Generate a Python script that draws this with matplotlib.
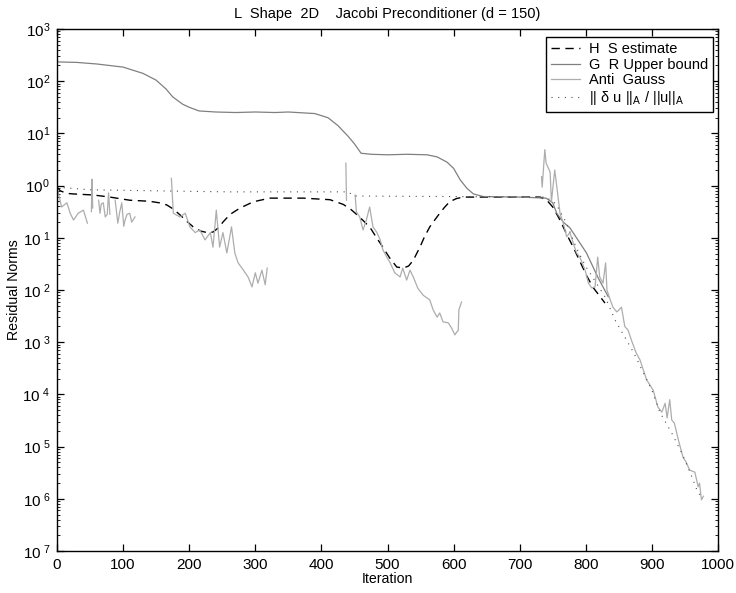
import matplotlib
matplotlib.use("Agg")
import matplotlib.pyplot as plt
import numpy as np
from matplotlib.ticker import FixedLocator, LogLocator, NullFormatter

plt.rcParams['font.family'] = ['Liberation Sans', 'DejaVu Sans']
plt.rcParams['mathtext.fontset'] = 'custom'
plt.rcParams['mathtext.rm'] = 'Liberation Sans'
plt.rcParams['mathtext.it'] = 'Liberation Sans:italic'

# --- data (log10 of the residual norm) ---
# G R upper bound
ub_iter = [0, 30, 60, 100, 130, 150, 165, 175, 190, 200, 215, 240, 270, 300, 330,
           350, 390, 410, 425, 440, 450, 460, 475, 500, 530, 560, 575, 590, 600,
           610, 620, 630, 645, 700, 740, 750, 756, 766, 776, 788, 801, 811, 818,
           826, 834]
ub_log = [2.37, 2.36, 2.33, 2.27, 2.15, 2.02, 1.85, 1.70, 1.56, 1.50, 1.43, 1.41,
          1.40, 1.41, 1.40, 1.41, 1.38, 1.30, 1.15, 0.95, 0.80, 0.62, 0.60, 0.59,
          0.60, 0.59, 0.55, 0.45, 0.33, 0.11, -0.05, -0.16, -0.21, -0.22, -0.24,
          -0.33, -0.53, -0.70, -0.81, -1.04, -1.29, -1.56, -1.75, -1.94, -2.13]

# H S estimate
hs_iter = [0, 5, 15, 25, 55, 80, 110, 140, 155, 166, 176, 186, 196, 206, 217, 227,
           236, 245, 251, 262, 277, 297, 322, 372, 413, 433, 444, 454, 464, 474,
           483, 493, 503, 514, 524, 532, 539, 549, 556, 564, 572, 579, 586, 594,
           604, 614, 731, 741, 750, 761, 771, 781, 791, 801, 811, 820, 829]
hs_log = [-0.03, -0.10, -0.15, -0.16, -0.18, -0.22, -0.28, -0.30, -0.33, -0.37,
          -0.45, -0.56, -0.68, -0.79, -0.87, -0.90, -0.89, -0.80, -0.70, -0.55,
          -0.43, -0.31, -0.24, -0.24, -0.27, -0.36, -0.45, -0.56, -0.68, -0.81,
          -0.99, -1.18, -1.38, -1.56, -1.58, -1.54, -1.43, -1.18, -0.98, -0.79,
          -0.65, -0.53, -0.42, -0.31, -0.25, -0.22, -0.22, -0.28, -0.41, -0.66,
          -0.93, -1.18, -1.45, -1.72, -1.95, -2.10, -2.25]

# || delta u ||_A / ||u||_A
du_iter = [0, 20, 50, 100, 200, 262, 440, 450, 600, 740, 755, 770, 786, 800, 815,
           830, 844, 872, 885, 900, 912, 930, 945, 958, 968, 975]
du_log = [-0.03, -0.05, -0.08, -0.09, -0.11, -0.12, -0.12, -0.20, -0.21, -0.22,
          -0.35, -0.70, -1.20, -1.55, -1.85, -2.15, -2.57, -3.19, -3.53, -3.92,
          -4.34, -4.74, -5.12, -5.50, -5.83, -5.97]

# Anti Gauss (gaps where the estimate is not available)
nan = np.nan
ag_iter = [0, 2, 7, 15, 20, 25, 32, 40, 46, 47,
           52, 53, 54, 55,
           63, 65, 67, 70, 73, 76, 78, 80, 81,
           88, 92, 95, 98, 101, 103, 106, 110, 113, 115, 118, 119,
           173, 176, 186, 194, 201, 209, 216, 224, 232, 236, 241, 246, 251, 257,
           264, 269, 274, 282, 289, 295, 300, 304, 310, 315, 318, 319,
           437, 438, 439,
           451, 453, 458, 463, 468, 473, 478, 484, 489, 493, 499, 504, 511, 519,
           523, 529, 534, 539, 546, 554, 564, 569, 575, 579, 584, 592, 597, 602,
           605, 607, 608, 612, 613,
           733, 734, 738, 740, 746, 748, 753, 758, 761, 766, 771, 776, 781, 786,
           791, 799, 804, 809, 814, 818, 821, 826, 830, 832, 837, 841, 847, 854,
           859, 864, 869, 876, 882, 892, 902, 909, 915, 920, 923, 927, 930, 934,
           940, 947, 952, 957, 965, 970, 972, 975, 978]
ag_log = [-0.03, -0.14, -0.41, -0.33, -0.53, -0.66, -0.53, -0.47, -0.72, nan,
          -0.50, 0.12, -0.43, nan,
          -0.28, -0.53, -0.35, -0.33, -0.60, -0.55, -0.14, -0.55, nan,
          -0.28, -0.72, -0.50, -0.33, -0.78, -0.66, -0.55, -0.53, -0.70, -0.66,
          -0.60, nan,
          0.14, -0.53, -0.60, -0.53, -0.79, -0.90, -0.85, -1.04, -0.90, -1.18,
          -0.47, -1.18, -0.90, -1.29, -0.79, -1.29, -1.48, -1.62, -1.75, -1.94,
          -1.67, -1.87, -1.62, -1.90, -1.58, nan,
          0.43, -0.28, nan,
          -0.18, -0.51, -0.60, -0.85, -0.66, -0.41, -0.79, -0.90, -1.04, -1.23,
          -1.37, -1.48, -1.67, -1.75, -1.58, -1.81, -1.62, -1.75, -1.97, -2.10,
          -2.19, -2.38, -2.52, -2.44, -2.61, -2.63, -2.73, -2.86, -2.80, -2.78,
          -2.38, -2.23, nan,
          0.17, -0.03, 0.69, 0.43, 0.26, -0.31, 0.30, -0.22, -0.53, -0.72,
          -0.98, -0.90, -1.10, -1.29, -1.37, -1.62, -1.87, -1.96, -1.94, -1.37,
          -1.75, -1.87, -1.48, -2.00, -2.19, -2.33, -2.42, -2.33, -2.70, -2.77,
          -2.96, -3.20, -3.34, -3.72, -3.92, -4.24, -4.34, -4.17, -4.45, -4.10,
          -4.49, -4.55, -4.87, -5.20, -5.30, -5.45, -5.49, -5.77, -5.70, -6.02,
          -5.95]

y_exps = [3, 2, 1, 0, -1, -2, -3, -4, -5, -6, -7]
# the minus signs are lost in the original labels
y_labels = [r'$\mathregular{10^{%d}}$' % e if e >= 0 else r'$\mathregular{10^{\ %d}}$' % -e
            for e in y_exps]

fig = plt.figure(figsize=(7.36, 5.93), dpi=100)
ax = fig.add_axes([57 / 736, 1 - 551 / 593, 661 / 736, 522 / 593])

ax.plot(hs_iter, 10.0 ** np.array(hs_log), color='black', lw=1.0,
        linestyle=(0, (6, 4)), label='H  S estimate')
ax.plot(ub_iter, 10.0 ** np.array(ub_log), color='0.5', lw=0.9,
        label='G  R Upper bound')
ax.plot(ag_iter, 10.0 ** np.array(ag_log), color='0.68', lw=0.9,
        label='Anti  Gauss')
ax.plot(du_iter, 10.0 ** np.array(du_log), color='0.3', lw=0.8,
        linestyle=(0, (1, 5)), label=r'|| δ u ||$_\mathregular{A}$ / ||u||$_\mathregular{A}$')

ax.set_yscale('log')
ax.set_xlim(0, 1000)
ax.set_ylim(1e-7, 1e3)
ax.set_xticks(np.arange(0, 1001, 100))
ax.yaxis.set_major_locator(FixedLocator([10.0 ** e for e in y_exps]))
ax.set_yticklabels(y_labels)
ax.yaxis.set_minor_locator(LogLocator(base=10, subs=np.arange(2, 10), numticks=20))
ax.yaxis.set_minor_formatter(NullFormatter())
ax.tick_params(which='both', direction='in', top=True, right=True, labelsize=11)
ax.tick_params(which='major', length=5, width=0.9, pad=5)
ax.tick_params(which='minor', length=2.5, width=0.6)
for s in ax.spines.values():
    s.set_linewidth(1.0)

ax.set_xlabel('Iteration', fontsize=10.2, labelpad=0)
ax.set_ylabel('Residual Norms', fontsize=10.2, labelpad=1)
ax.set_title('L  Shape  2D    Jacobi Preconditioner (d = 150)', fontsize=10.5, pad=8)

leg = ax.legend(loc='upper right', bbox_to_anchor=(0.993, 0.985), borderaxespad=0,
                fontsize=10.5, fancybox=False, framealpha=1, edgecolor='black',
                handlelength=2.0, handletextpad=0.6, labelspacing=0.12,
                borderpad=0.35)
leg.get_frame().set_linewidth(1.0)

fig.savefig('out.png', dpi=100)
